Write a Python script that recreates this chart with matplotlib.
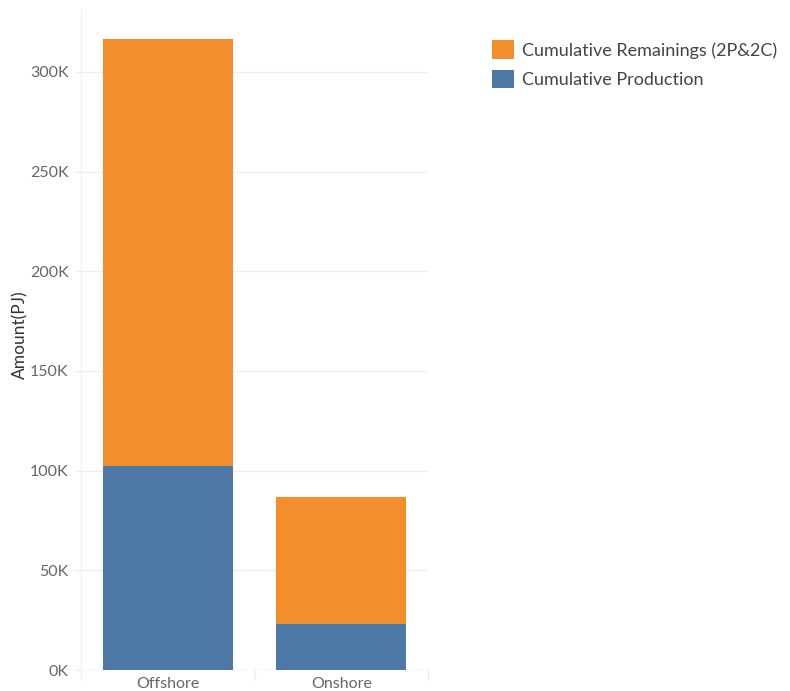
import matplotlib as mpl
mpl.use('Agg')
import matplotlib.pyplot as plt
from matplotlib.patches import Patch
from matplotlib.ticker import FuncFormatter, MultipleLocator

# values, in PJ
categories = ["Offshore", "Onshore"]
production = [102200, 23200]
remainings = [214200, 63400]
series_names = ["Cumulative Remainings (2P&2C)", "Cumulative Production"]

ORANGE = '#F28E2B'
BLUE = '#4E79A7'
GRID = '#EFEFEF'

plt.rcParams['font.family'] = ['Lato', 'DejaVu Sans']

fig = plt.figure(figsize=(7.9, 6.91), dpi=100)
ax = fig.add_axes([81 / 790, 21 / 691, 347 / 790, 660 / 691])

x = range(len(categories))
ax.bar(x, production, width=0.75, color=BLUE, zorder=3)
ax.bar(x, remainings, width=0.75, bottom=production, color=ORANGE, zorder=3)

ax.set_xlim(-0.5, len(categories) - 0.5)
ax.set_ylim(0, 331000)
ax.yaxis.set_major_locator(MultipleLocator(50000))
ax.yaxis.set_major_formatter(FuncFormatter(lambda v, p: '%dK' % round(v / 1000)))
ax.grid(axis='y', color=GRID, linewidth=1, zorder=0)

for s in ['top', 'right', 'bottom']:
    ax.spines[s].set_visible(False)
ax.spines['left'].set_color(GRID)
ax.axhline(0, color=GRID, linewidth=1, zorder=1)

ax.set_xticks(list(x))
ax.set_xticklabels(categories)
ax.tick_params(axis='x', length=0, pad=5, labelsize=11.5, labelcolor='#666666')
ax.tick_params(axis='y', length=5, color=GRID, pad=4, labelsize=11.5, labelcolor='#666666')

# category separators under the axis
for b in [-0.5, 0.5, 1.5]:
    ax.plot([b, b], [0, -5000], color=GRID, linewidth=1, clip_on=False)

fig.text(20 / 790, 1 - 335 / 691, "Amount(PJ)", rotation=90, ha='center', va='center',
         fontsize=12.5, color='#333333')

handles = [Patch(facecolor=ORANGE), Patch(facecolor=BLUE)]
fig.legend(handles, series_names, loc='upper left', bbox_to_anchor=(485 / 790, 1 - 33 / 691),
           frameon=False, fontsize=13, labelcolor='#444444', handlelength=1.2,
           handleheight=1.2, handletextpad=0.45, labelspacing=0.6, borderaxespad=0)

fig.savefig('out.png', dpi=100)
